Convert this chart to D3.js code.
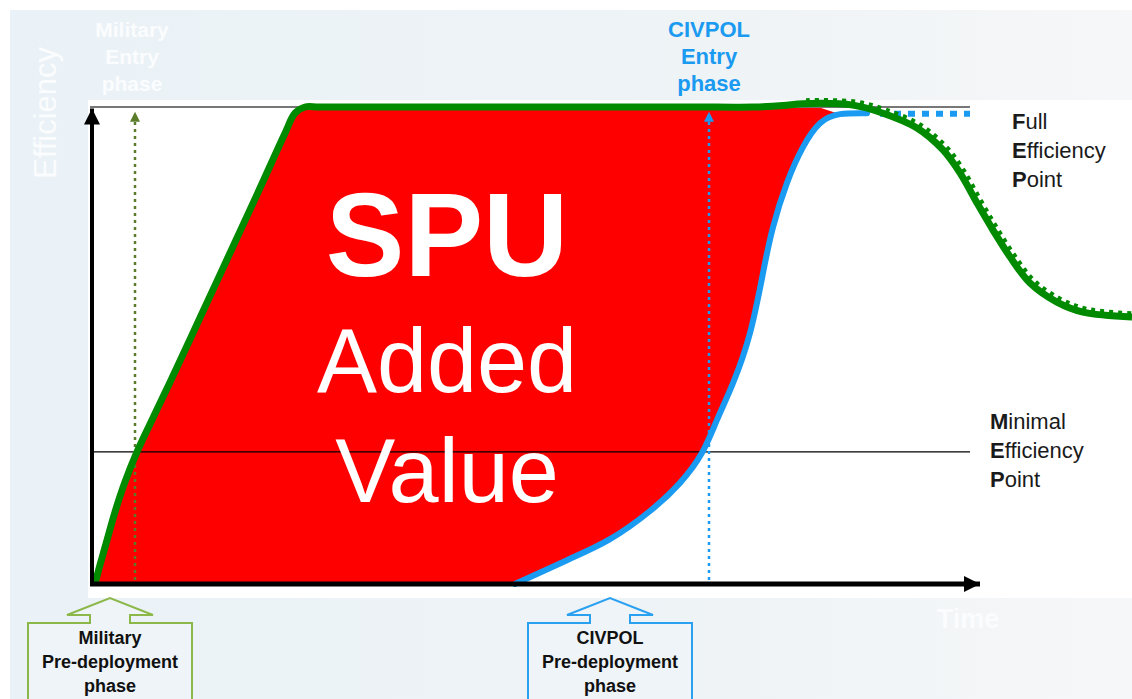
<!DOCTYPE html>
<html>
<head>
<meta charset="utf-8">
<script src="https://cdn.jsdelivr.net/npm/d3@7"></script>
<style>
  body { margin: 0; background: #fff; }
  text { font-family: "Liberation Sans", Arial, sans-serif; }
</style>
</head>
<body>
<div id="chart"></div>
<script>
// Military efficiency curve (time, efficiency %)
const milTime = [0.2, 0.7, 1.4, 2.2, 3.2, 4.4, 5.9, 7.7, 10.7, 13.7, 16.7, 19.2, 20.2, 21.2, 22.5, 25, 30, 40, 50, 60, 66, 69, 71, 76, 79.0, 82.4, 85.0, 86.7, 88.4, 90.0, 91.7, 93.7, 96.4, 99.0, 103.9];
const milEff  = [0, 4.0, 9.2, 15.1, 21.4, 27.7, 34.4, 42.3, 55.8, 69.4, 83.0, 94.5, 98.7, 100, 100, 100, 100, 100, 100, 100, 100, 100.3, 100.7, 100.4, 98.7, 95.6, 91.0, 86.2, 79.9, 74.2, 68.6, 63.1, 59.1, 57.0, 56.0];

// CIVPOL efficiency curve
const civTime = [42.2, 47.4, 51.7, 55.7, 58.7, 60.9, 62.4, 64.0, 65.7, 67.0, 68.0, 69.4, 71.0, 72.7, 74.7, 77.4];
const civEff  = [0, 5.0, 9.4, 15.3, 21.2, 27.5, 34.4, 42.1, 52.6, 65.2, 74.8, 84.1, 91.6, 96.6, 98.5, 98.7];
// CIVPOL holding at full efficiency (dotted)
const civHoldTime = [78.7, 87.7];
const civHoldEff  = [98.6, 98.6];

// reference levels and entry points
const fullLevel = 100;
const minLevel = 27.7;
const milEntry = 4.2;
const civEntry = 61.6;

const W = 1132, H = 699;
const svg = d3.select("#chart").append("svg").attr("width", W).attr("height", H);

const x = d3.scaleLinear().domain([0, 100]).range([93, 1093]);
const y = d3.scaleLinear().domain([0, 100]).range([584, 107]);

const mil = milTime.map((t, i) => [t, milEff[i]]);
const civ = civTime.map((t, i) => [t, civEff[i]]);
const civHold = civHoldTime.map((t, i) => [t, civHoldEff[i]]);

// background
const defs = svg.append("defs");
const bg = defs.append("linearGradient").attr("id", "bg").attr("x1", 0).attr("x2", 1).attr("y1", 0).attr("y2", 0);
bg.append("stop").attr("offset", "0%").attr("stop-color", "#eaf2f7");
bg.append("stop").attr("offset", "60%").attr("stop-color", "#eef3f6");
bg.append("stop").attr("offset", "100%").attr("stop-color", "#f6f7f8");
svg.append("rect").attr("x", 10).attr("y", 10).attr("width", W - 10).attr("height", H - 10).attr("fill", "url(#bg)");
svg.append("rect").attr("x", 88).attr("y", 100).attr("width", W - 88).attr("height", 498).attr("fill", "#fff");

// arrow markers
function marker(id, color, w, h) {
  defs.append("marker").attr("id", id)
    .attr("viewBox", "0 0 10 10").attr("refX", 10).attr("refY", 5)
    .attr("markerUnits", "userSpaceOnUse")
    .attr("markerWidth", w).attr("markerHeight", h).attr("orient", "auto")
    .append("path").attr("d", "M0,0L10,5L0,10Z").attr("fill", color);
}
marker("axArrow", "#000", 18, 16);
marker("milArrow", "#5b7d2b", 10, 10);
marker("civArrow", "#1a9af0", 10, 10);

const line = d3.line().x(d => x(d[0])).y(d => y(d[1])).curve(d3.curveCatmullRom.alpha(0.5));
const civLine = d3.line().x(d => x(d[0])).y(d => y(d[1])).curve(d3.curveNatural);

// red added-value area between the two curves
const milRise = mil.filter(d => d[0] <= 69).concat([[72.5, 100]]);
const civBack = civ.slice(0, 15).reverse();
svg.append("path")
  .attr("d", line(milRise) + civLine(civBack).replace(/^M/, "L") + "Z")
  .attr("fill", "#ff0000");

// reference lines
svg.append("line").attr("x1", x(-0.3)).attr("x2", x(87.7)).attr("y1", y(fullLevel)).attr("y2", y(fullLevel))
  .attr("stroke", "#777").attr("stroke-width", 2);
svg.append("line").attr("x1", x(-0.3)).attr("x2", x(87.7)).attr("y1", y(minLevel)).attr("y2", y(minLevel))
  .attr("stroke", "#000").attr("stroke-width", 1.3);

// entry arrows
svg.append("line").attr("x1", x(milEntry)).attr("x2", x(milEntry)).attr("y1", y(0) - 4).attr("y2", y(99))
  .attr("stroke", "#5b7d2b").attr("stroke-width", 2.5).attr("stroke-dasharray", "3,4")
  .attr("marker-end", "url(#milArrow)");
svg.append("line").attr("x1", x(civEntry)).attr("x2", x(civEntry)).attr("y1", y(0) - 4).attr("y2", y(99))
  .attr("stroke", "#1a9af0").attr("stroke-width", 2.5).attr("stroke-dasharray", "3,4")
  .attr("marker-end", "url(#civArrow)");

// curves
svg.append("path").attr("d", line(civHold)).attr("fill", "none")
  .attr("stroke", "#1a9af0").attr("stroke-width", 6).attr("stroke-dasharray", "7,7");
svg.append("path").attr("d", civLine(civ)).attr("fill", "none")
  .attr("stroke", "#1a9af0").attr("stroke-width", 6).attr("stroke-linecap", "round");
svg.append("path").attr("d", line(mil)).attr("fill", "none")
  .attr("stroke", "#008a00").attr("stroke-width", 7).attr("stroke-linejoin", "round");
svg.append("path").attr("d", line(mil.filter(d => d[0] >= 71))).attr("fill", "none")
  .attr("transform", "translate(3,-3)")
  .attr("stroke", "#008a00").attr("stroke-width", 5).attr("stroke-dasharray", "4,5");

// axes
svg.append("line").attr("x1", 90).attr("x2", x(88.7)).attr("y1", y(0)).attr("y2", y(0))
  .attr("stroke", "#000").attr("stroke-width", 5).attr("marker-end", "url(#axArrow)");
svg.append("line").attr("x1", 92).attr("x2", 92).attr("y1", y(0) + 2).attr("y2", y(99.7))
  .attr("stroke", "#000").attr("stroke-width", 4).attr("marker-end", "url(#axArrow)");

// faint axis titles
svg.append("text").attr("transform", "translate(56,113) rotate(-90)").attr("text-anchor", "middle")
  .attr("font-size", 31).attr("fill", "#fbfcfd").text("Efficiency");
svg.append("text").attr("x", 968).attr("y", 628).attr("text-anchor", "middle")
  .attr("font-size", 27).attr("font-weight", "bold").attr("fill", "#fbfcfd").text("Time");

// entry phase labels
function stack(cx, y0, lines, color, size, gap) {
  const t = svg.append("text").attr("text-anchor", "middle").attr("font-weight", "bold")
    .attr("font-size", size).attr("fill", color);
  lines.forEach((s, i) => t.append("tspan").attr("x", cx).attr("y", y0 + i * gap).text(s));
}
stack(132, 37, ["Military", "Entry", "phase"], "#fbfcfd", 21, 27);
stack(x(civEntry), 37, ["CIVPOL", "Entry", "phase"], "#1a9af0", 22, 27);

// big label
svg.append("text").attr("x", 447).attr("y", 276).attr("text-anchor", "middle")
  .attr("font-size", 118).attr("font-weight", "bold").attr("fill", "#fff").text("SPU");
svg.append("text").attr("x", 447).attr("y", 392).attr("text-anchor", "middle")
  .attr("font-size", 90).attr("fill", "#fff").text("Added");
svg.append("text").attr("x", 447).attr("y", 502).attr("text-anchor", "middle")
  .attr("font-size", 90).attr("fill", "#fff").text("Value");

// level labels, first letter bold
function levelLabel(x0, y0, words) {
  words.forEach((w, i) => {
    const t = svg.append("text").attr("x", x0).attr("y", y0 + i * 29).attr("font-size", 22).attr("fill", "#1a1a1a");
    t.append("tspan").attr("font-weight", "bold").text(w[0]);
    t.append("tspan").text(w.slice(1));
  });
}
levelLabel(1012, 129, ["Full", "Efficiency", "Point"]);
levelLabel(990, 429, ["Minimal", "Efficiency", "Point"]);

// pre-deployment callouts
function callout(cx, color, lines) {
  const l = cx - 82, r = cx + 82, top = 623, neck = 20, head = 43;
  const d = `M${l},${H + 5}L${l},${top}L${cx - neck},${top}L${cx - neck},615L${cx - head},615L${cx},598`
    + `L${cx + head},615L${cx + neck},615L${cx + neck},${top}L${r},${top}L${r},${H + 5}`;
  svg.append("path").attr("d", d).attr("fill", "#eef4f8").attr("stroke", color).attr("stroke-width", 2);
  const t = svg.append("text").attr("text-anchor", "middle").attr("font-weight", "bold")
    .attr("font-size", 18).attr("fill", "#111");
  lines.forEach((s, i) => t.append("tspan").attr("x", cx).attr("y", 644 + i * 24).text(s));
}
callout(110, "#8cb84a", ["Military", "Pre-deployment", "phase"]);
callout(610, "#2aa0f0", ["CIVPOL", "Pre-deployment", "phase"]);
</script>
</body>
</html>
